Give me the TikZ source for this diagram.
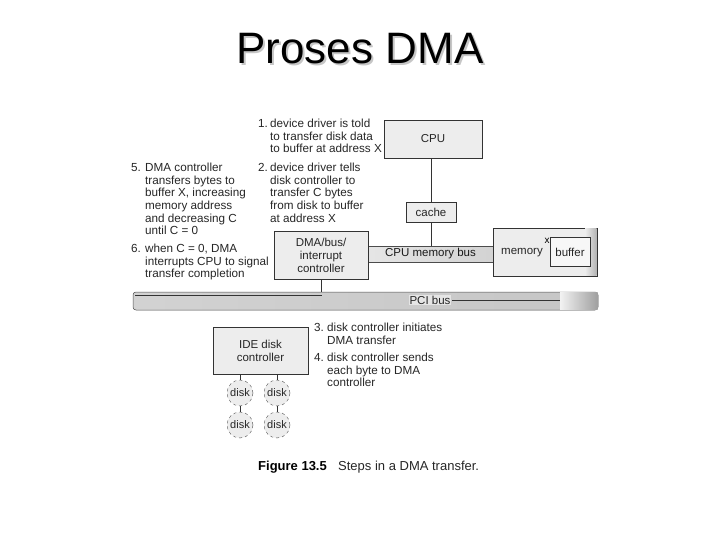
\documentclass[tikz,border=0pt]{standalone}
\usepackage{fontspec}
\setmainfont{Liberation Sans}
\usetikzlibrary{calc}
\begin{document}
\begin{tikzpicture}[x=1pt,y=-1pt,
  txt/.style={font=\fontsize{11.7}{12.6}\selectfont, align=left, inner sep=0pt, anchor=north west, text=black!85},
  boxx/.style={draw=black!80, fill=gray!14, line width=0.6pt, inner sep=0pt, align=center,
     font=\fontsize{11.5}{13}\selectfont, text=black!85},
  disknode/.style={circle, draw=black!70, dashed, fill=gray!14, minimum size=26pt, inner sep=0pt,
     font=\fontsize{11}{12}\selectfont, text=black!85},
  link/.style={draw=black!80, line width=0.6pt}]
\useasboundingbox (0,0) rectangle (720,540);
% title
\node[text=gray!45, font=\fontsize{44}{48}\selectfont] at (362,51) {Proses DMA};
\node (title) [font=\fontsize{44}{48}\selectfont] at (360,49) {Proses DMA};

% buses
\shade[left color=gray!35, right color=gray!45, draw=black!70, line width=0.5pt, rounded corners=3pt]
  (133,292) rectangle (598,310);
\shade[left color=gray!10, right color=gray!75] (560,292.3) rectangle (597.7,309.7);
\draw[black!80, line width=0.5pt] (135,295) -- (322,295);
\draw[black!80, line width=0.5pt] (452,300) -- (560,300);
\node (pci) [inner sep=0pt, minimum width=465pt, minimum height=18pt] at (365.5,301) {};
\node (pcilabel) [font=\fontsize{11.5}{13}\selectfont, text=black!85, fill=gray!20, inner sep=1pt] at (430,300) {PCI bus};

\shade[left color=gray!20, right color=gray!35, draw=black!70, line width=0.5pt]
  (368,246) rectangle (493,262);
\node (membus) [inner sep=0pt, minimum width=125pt, minimum height=16pt,
  font=\fontsize{11.5}{13}\selectfont, text=black!90] at (430.5,254) {CPU memory bus};

% boxes
\node (cpu) [boxx, minimum width=98pt, minimum height=38pt] at (433,139) {CPU};
\node (cache) [boxx, minimum width=50pt, minimum height=20pt] at (431,212) {cache};
\node (dma) [boxx, minimum width=94pt, minimum height=48pt] at (321,255) {DMA/bus/\\interrupt\\controller};
\node (mem) [boxx, minimum width=104pt, minimum height=48pt] at (545,252) {};
\shade[left color=gray!14, right color=gray!60] (585,228.3) rectangle (596.7,275.7);
\node (memlabel) [font=\fontsize{11.5}{13}\selectfont, text=black!85, inner sep=0pt] at (522,253) {memory};
\node (buffer) [boxx, fill=gray!6, minimum width=40pt, minimum height=29pt] at (570,252) {buffer};
\node (xlabel) [font=\fontsize{10}{11}\selectfont, inner sep=0pt] at (547,241) {x};
\node (ide) [boxx, minimum width=95pt, minimum height=47pt] at (260.5,350.5) {IDE disk\\controller};

% disks
\node (d1) [disknode] at (240,393) {disk};
\node (d2) [disknode] at (277,393) {disk};
\node (d3) [disknode] at (240,425) {disk};
\node (d4) [disknode] at (277,425) {disk};

% connectors
\draw[link] (cache.north |- cpu.south) -- (cache.north);
\draw[link] (cache.south) -- (cache.south |- membus.north);
\draw[link] (dma.south) -- (dma.south |- pci.north);
\draw[link] (d1.north |- ide.south) -- (d1.north);
\draw[link] (d2.north |- ide.south) -- (d2.north);
\draw[link] (d1.south) -- (d3.north);
\draw[link] (d2.south) -- (d4.north);

% step texts
\node (n1) [txt] at (258,119) {1.};
\node (t1) [txt] at (270,119) {device driver is told\\to transfer disk data\\to buffer at address X};
\node (n2) [txt] at (258,163) {2.};
\node (t2) [txt] at (270,163) {device driver tells\\disk controller to\\transfer C bytes\\from disk to buffer\\at address X};
\node (n5) [txt] at (131,163) {5.};
\node (t5) [txt] at (145,163) {DMA controller\\transfers bytes to\\buffer X, increasing\\memory address\\and decreasing C\\until C = 0};
\node (n6) [txt] at (131,244) {6.};
\node (t6) [txt] at (145,244) {when C = 0, DMA\\interrupts CPU to signal\\transfer completion};
\node (n3) [txt] at (314,323) {3.};
\node (t3) [txt] at (327,323) {disk controller initiates\\DMA transfer};
\node (n4) [txt] at (314,353) {4.};
\node (t4) [txt] at (327,353) {disk controller sends\\each byte to DMA\\controller};

% caption
\node (figno) [font=\bfseries\fontsize{13}{15}\selectfont, anchor=west, inner sep=0pt] at (258,467) {Figure 13.5};
\node (figcap) [font=\fontsize{13}{15}\selectfont, anchor=west, inner sep=0pt, text=black!85] at (338,467) {Steps in a DMA transfer.};
\end{tikzpicture}
\end{document}
